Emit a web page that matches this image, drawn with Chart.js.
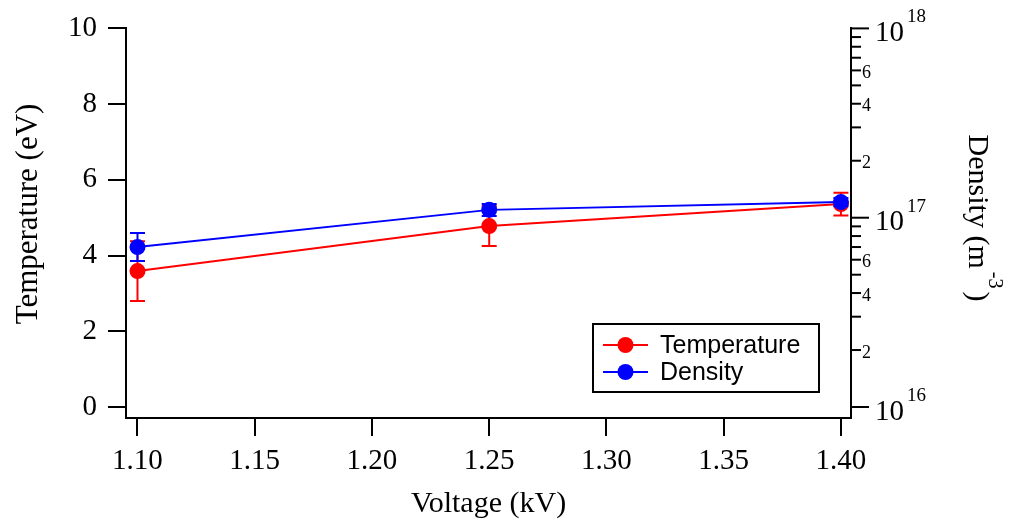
<!DOCTYPE html>
<html>
<head>
<meta charset="utf-8">
<script src="https://cdn.jsdelivr.net/npm/chart.js@4.4.1/dist/chart.umd.min.js"></script>
<style>
    html, body { margin: 0; padding: 0; background: #fff; }
    #wrap { width: 1011px; height: 522px; }
</style>
</head>
<body>
<div id="wrap"><canvas id="chart" width="1011" height="522"></canvas></div>
<script>
// data
const voltages = [1.10, 1.25, 1.40];
const temperature = [3.59, 4.78, 5.36];
const temperatureErr = [0.79, 0.53, 0.30];
const density = [7.0e16, 1.10e17, 1.21e17];
const densityLow = [5.9e16, 1.02e17, 1.15e17];
const densityHigh = [8.3e16, 1.18e17, 1.27e17];

const xTicks = [1.10, 1.15, 1.20, 1.25, 1.30, 1.35, 1.40];
const tempTicks = [0, 2, 4, 6, 8, 10];
const densityDecades = [16, 17, 18];
const densityMinor = [2, 3, 4, 5, 6, 7, 8, 9];
const densityMinorLabels = [2, 4, 6];

const RED = "#ff0000";
const BLUE = "#0000ff";
const SERIF = "'Liberation Serif', 'Times New Roman', serif";
const SANS = "'Liberation Sans', Arial, sans-serif";

const errorBars = {
    id: "errorBars",
    beforeDatasetDraw(chart, args) {
        const ctx = chart.ctx;
        const x = chart.scales.x;
        let lows, highs, scale, color;
        if (args.index === 0) {
            scale = chart.scales.y;
            lows = temperature.map((t, i) => t - temperatureErr[i]);
            highs = temperature.map((t, i) => t + temperatureErr[i]);
            color = RED;
        } else {
            scale = chart.scales.y2;
            lows = densityLow;
            highs = densityHigh;
            color = BLUE;
        }
        ctx.save();
        ctx.strokeStyle = color;
        ctx.lineWidth = 2;
        voltages.forEach((v, i) => {
            const px = x.getPixelForValue(v);
            const y1 = scale.getPixelForValue(lows[i]);
            const y2 = scale.getPixelForValue(highs[i]);
            ctx.beginPath();
            ctx.moveTo(px, y1); ctx.lineTo(px, y2);
            ctx.moveTo(px - 7.5, y1); ctx.lineTo(px + 7.5, y1);
            ctx.moveTo(px - 7.5, y2); ctx.lineTo(px + 7.5, y2);
            ctx.stroke();
        });
        ctx.restore();
    }
};

const extras = {
    id: "extras",
    afterDraw(chart) {
        const ctx = chart.ctx;
        const s = chart.scales.y2;
        const ax = chart.chartArea.right;

        ctx.save();
        ctx.strokeStyle = "#000";
        ctx.fillStyle = "#000";
        ctx.lineWidth = 2;

        // right log axis: ticks and labels
        densityDecades.forEach(d => {
            const py = s.getPixelForValue(Math.pow(10, d));
            ctx.beginPath(); ctx.moveTo(ax, py); ctx.lineTo(ax + 18, py); ctx.stroke();
            ctx.textBaseline = "middle";
            ctx.textAlign = "left";
            ctx.font = "29px " + SERIF;
            ctx.fillText("10", ax + 24, py + 5);
            const w = ctx.measureText("10").width;
            ctx.font = "19px " + SERIF;
            ctx.fillText(String(d), ax + 27 + w, py - 11);
            if (d === densityDecades[densityDecades.length - 1]) return;
            densityMinor.forEach(m => {
                const my = s.getPixelForValue(m * Math.pow(10, d));
                ctx.beginPath(); ctx.moveTo(ax, my); ctx.lineTo(ax + 10, my); ctx.stroke();
                if (densityMinorLabels.includes(m)) {
                    ctx.font = "18px " + SERIF;
                    ctx.fillText(String(m), ax + 11, my + 3);
                }
            });
        });

        // right axis title with superscript
        ctx.translate(977, 218);
        ctx.rotate(Math.PI / 2);
        ctx.textBaseline = "middle";
        ctx.textAlign = "left";
        const big = "30px " + SERIF, small = "20px " + SERIF;
        ctx.font = big;
        const w1 = ctx.measureText("Density (m").width;
        const w3 = ctx.measureText(")").width;
        ctx.font = small;
        const w2 = ctx.measureText("-3").width;
        const total = w1 + 3 + w2 + 3 + w3;
        let cx = -total / 2;
        ctx.font = big;
        ctx.fillText("Density (m", cx, 0);
        cx += w1 + 3;
        ctx.font = small;
        ctx.fillText("-3", cx, -17);
        cx += w2 + 3;
        ctx.font = big;
        ctx.fillText(")", cx, 0);
        ctx.restore();

        // left axis title (drawn here so it can sit a little above centre, as in the figure)
        ctx.save();
        ctx.translate(29, 214);
        ctx.rotate(-Math.PI / 2);
        ctx.textAlign = "center";
        ctx.textBaseline = "middle";
        ctx.fillStyle = "#000";
        ctx.font = "31px " + SERIF;
        ctx.fillText("Temperature (eV)", 0, 0);
        ctx.restore();

        // legend box
        ctx.save();
        ctx.fillStyle = "#fff";
        ctx.fillRect(593, 324, 226, 68);
        ctx.strokeStyle = "#000";
        ctx.lineWidth = 2;
        ctx.strokeRect(593, 324, 226, 68);
        [["Temperature", RED, 345], ["Density", BLUE, 372]].forEach(([label, color, ly]) => {
            ctx.strokeStyle = color;
            ctx.fillStyle = color;
            ctx.beginPath(); ctx.moveTo(603, ly); ctx.lineTo(648, ly); ctx.stroke();
            ctx.beginPath(); ctx.arc(625.5, ly, 8, 0, Math.PI * 2); ctx.fill();
            ctx.fillStyle = "#000";
            ctx.font = "25px " + SANS;
            ctx.textBaseline = "middle";
            ctx.fillText(label, 660, ly + 1);
        });
        ctx.restore();
    }
};

const axisGrid = {
    drawOnChartArea: false,
    drawTicks: true,
    tickLength: 18,
    color: "#000",
    lineWidth: 2
};
const axisBorder = { display: true, color: "#000", width: 2 };

new Chart(document.getElementById("chart"), {
    type: "line",
    data: {
        datasets: [
            {
                label: "Temperature",
                data: voltages.map((v, i) => ({ x: v, y: temperature[i] })),
                yAxisID: "y",
                borderColor: RED,
                backgroundColor: RED,
                borderWidth: 2,
                pointRadius: 8,
                pointBorderWidth: 0,
                order: 1
            },
            {
                label: "Density",
                data: voltages.map((v, i) => ({ x: v, y: density[i] })),
                yAxisID: "y2",
                borderColor: BLUE,
                backgroundColor: BLUE,
                borderWidth: 2,
                pointRadius: 8,
                pointBorderWidth: 0,
                order: 0
            }
        ]
    },
    options: {
        responsive: false,
        devicePixelRatio: 1,
        animation: false,
        layout: { padding: { top: 28, left: 0, right: 0, bottom: 0 } },
        plugins: {
            legend: { display: false },
            tooltip: { enabled: false }
        },
        scales: {
            x: {
                type: "linear",
                position: "bottom",
                min: 1.0951,
                max: 1.4043,
                afterBuildTicks: s => { s.ticks = xTicks.map(v => ({ value: v })); },
                afterFit: s => { s.height = 104; },
                ticks: {
                    callback: v => v.toFixed(2),
                    color: "#000",
                    font: { family: SERIF, size: 29 },
                    padding: 8,
                    maxRotation: 0,
                    autoSkip: false
                },
                grid: axisGrid,
                border: axisBorder,
                title: {
                    display: true,
                    text: "Voltage (kV)",
                    color: "#000",
                    font: { family: SERIF, size: 30 },
                    padding: { top: 0, bottom: 0 }
                }
            },
            y: {
                type: "linear",
                position: "left",
                min: -0.29,
                max: 10,
                afterBuildTicks: s => { s.ticks = tempTicks.map(v => ({ value: v })); },
                afterFit: s => { s.width = 126; },
                ticks: {
                    color: "#000",
                    font: { family: SERIF, size: 29 },
                    padding: 11
                },
                grid: axisGrid,
                border: axisBorder
            },
            y2: {
                type: "logarithmic",
                position: "right",
                min: 8.75e15,
                max: 1e18,
                afterFit: s => { s.width = 160; },
                ticks: { display: false },
                grid: { display: false },
                border: axisBorder
            }
        }
    },
    plugins: [errorBars, extras]
});
</script>
</body>
</html>
